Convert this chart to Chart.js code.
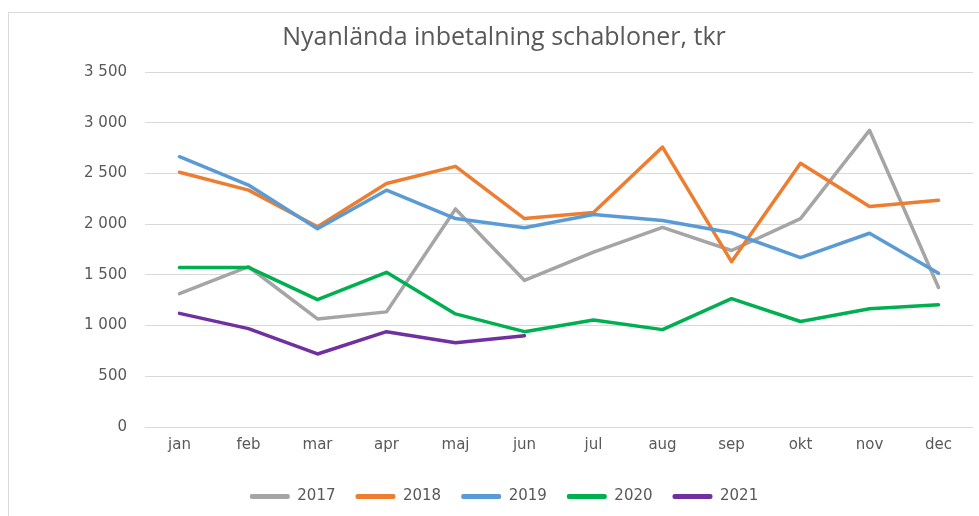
<!DOCTYPE html>
<html>
<head>
<meta charset="utf-8">
<script src="https://cdn.jsdelivr.net/npm/chart.js@4"></script>
<style>
  body { margin: 0; background: #fff; }
  #ram { position: absolute; left: 8px; top: 12px; width: 1200px; height: 800px;
         border-top: 1px solid #d9d9d9; border-left: 1px solid #d9d9d9; }
  #wrap { position: absolute; left: 0; top: 0; width: 979px; height: 516px; }
</style>
</head>
<body>
<div id="ram"></div>
<div id="wrap"><canvas id="grafik"></canvas></div>
<script>
const manader = ['jan', 'feb', 'mar', 'apr', 'maj', 'jun', 'jul', 'aug', 'sep', 'okt', 'nov', 'dec']
const ar2017 = [1315, 1580, 1065, 1135, 2150, 1445, 1725, 1968, 1740, 2055, 2925, 1375]
const ar2018 = [2512, 2335, 1975, 2400, 2570, 2055, 2115, 2760, 1630, 2600, 2175, 2235]
const ar2019 = [2665, 2385, 1955, 2335, 2055, 1965, 2095, 2035, 1915, 1670, 1910, 1515]
const ar2020 = [1573, 1573, 1255, 1525, 1115, 940, 1055, 960, 1265, 1040, 1165, 1205]
const ar2021 = [1120, 970, 720, 940, 830, 900]
const yTicks = [0, 500, 1000, 1500, 2000, 2500, 3000, 3500]

const gra = '#595959'

function serie(namn, data, farg, ordning) {
  return {
    label: namn,
    data: data,
    borderColor: farg,
    backgroundColor: farg,
    borderWidth: 3.5,
    pointRadius: 0,
    tension: 0,
    borderJoinStyle: 'round',
    borderCapStyle: 'round',
    order: ordning,
  }
}

function formatera(v) {
  return String(v).replace(/\B(?=(\d{3})+(?!\d))/g, ' ')
}

const grafik = new Chart(document.getElementById('grafik'), {
  type: 'line',
  data: {
    labels: manader,
    datasets: [
      serie('2017', ar2017, '#A5A5A5', 5),
      serie('2018', ar2018, '#ED7D31', 4),
      serie('2019', ar2019, '#5B9BD5', 3),
      serie('2020', ar2020, '#00B050', 2),
      serie('2021', ar2021, '#7030A0', 1),
    ],
  },
  options: {
    responsive: true,
    maintainAspectRatio: false,
    animation: false,
    layout: { padding: { left: 35, right: 6, top: 0, bottom: 2 } },
    plugins: {
      title: {
        display: true,
        text: 'Nyanlända inbetalning schabloner, tkr',
        color: gra,
        font: { family: 'Open Sans', size: 25, weight: 'normal' },
        padding: { top: 23, bottom: 19 },
      },
      legend: {
        position: 'bottom',
        labels: {
          color: gra,
          font: { family: 'DejaVu Sans', size: 15 },
          boxWidth: 40,
          boxHeight: 5,
          padding: 20,
          useBorderRadius: true,
          borderRadius: 2,
          sort: (a, b) => a.datasetIndex - b.datasetIndex,
          generateLabels: chart => Chart.defaults.plugins.legend.labels.generateLabels(chart)
            .map(l => Object.assign(l, { lineWidth: 0 })),
        },
      },
      tooltip: { enabled: false },
    },
    scales: {
      x: {
        offset: true,
        grid: { display: false, drawTicks: false },
        border: { display: false },
        ticks: { color: gra, font: { family: 'DejaVu Sans', size: 15 }, padding: 9, maxRotation: 0 },
        afterFit: axel => { axel.height = 42 },
      },
      y: {
        min: 0,
        max: 3500,
        afterBuildTicks: axel => { axel.ticks = yTicks.map(v => ({ value: v })) },
        grid: { color: '#d9d9d9', lineWidth: 1, drawTicks: false },
        border: { display: false },
        ticks: { color: gra, font: { family: 'DejaVu Sans', size: 15 }, padding: 18, callback: v => formatera(v) },
        afterFit: axel => { axel.width = 110 },
      },
    },
  },
})
</script>
</body>
</html>
